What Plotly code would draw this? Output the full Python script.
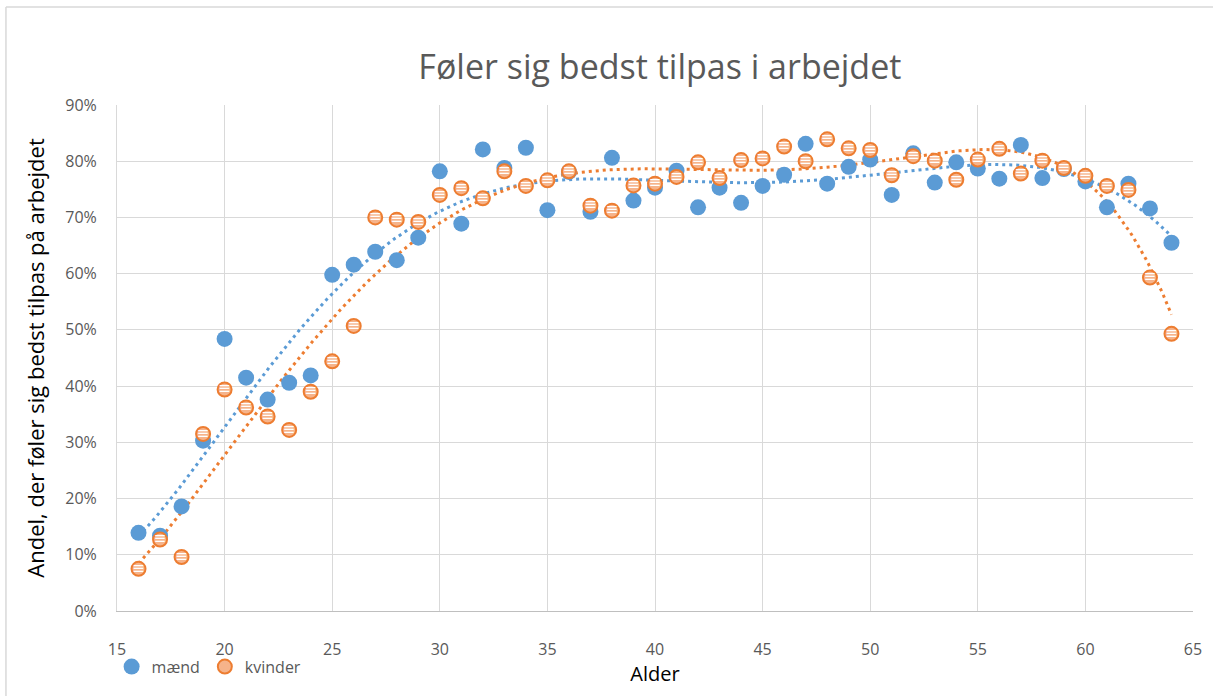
import numpy as np
import plotly.graph_objects as go

# Alder (år)
ages = list(range(16, 65))

# Andel mænd, der føler sig bedst tilpas i arbejdet (%)
maend = [13.9, 13.4, 18.6, 30.3, 48.4, 41.5, 37.6, 40.6, 41.9, 59.8,
         61.6, 63.9, 62.4, 66.4, 78.2, 68.9, 82.1, 78.8, 82.4, 71.3,
         78.1, 71.0, 80.6, 73.0, 75.3, 78.3, 71.8, 75.3, 72.6, 75.6,
         77.6, 83.1, 76.0, 79.0, 80.3, 74.0, 81.4, 76.2, 79.8, 78.7,
         76.9, 82.9, 77.0, 78.6, 76.4, 71.8, 76.0, 71.6, 65.5]

# Andel kvinder (%)
kvinder = [7.5, 12.7, 9.6, 31.5, 39.4, 36.2, 34.6, 32.2, 39.0, 44.4,
           50.7, 70.0, 69.6, 69.2, 74.0, 75.2, 73.4, 78.2, 75.6, 76.6,
           78.2, 72.1, 71.2, 75.7, 76.0, 77.2, 79.8, 77.0, 80.2, 80.5,
           82.6, 80.0, 83.9, 82.3, 82.0, 77.5, 80.9, 80.1, 76.7, 80.3,
           82.2, 77.8, 80.1, 78.8, 77.4, 75.6, 74.9, 59.3, 49.3]

x_ticks = [15, 20, 25, 30, 35, 40, 45, 50, 55, 60, 65]
y_ticks = [0, 10, 20, 30, 40, 50, 60, 70, 80, 90]
y_labels = [f"{v}%" for v in y_ticks]

BLUE = "#5B9BD5"
ORANGE = "#ED7D31"
GREY_TXT = "#595959"

x = np.array(ages, dtype=float)


def poly_trend(yvals, order=6):
    # Polynomial trendline of order 6 (least squares), evaluated on a fine grid
    xc = (x - x.mean()) / x.std()
    coef = np.polyfit(xc, np.array(yvals) / 100.0, order)
    xf = np.linspace(x.min(), x.max(), 400)
    return xf, np.polyval(coef, (xf - x.mean()) / x.std())


fig = go.Figure()

xb, yb = poly_trend(maend)
xo, yo = poly_trend(kvinder)

fig.add_trace(go.Scatter(x=xb, y=yb, mode="lines", showlegend=False, hoverinfo="skip",
                         line=dict(color=BLUE, width=3, dash="3px,4px")))
fig.add_trace(go.Scatter(x=xo, y=yo, mode="lines", showlegend=False, hoverinfo="skip",
                         line=dict(color=ORANGE, width=3, dash="3px,4px")))

fig.add_trace(go.Scatter(
    x=ages, y=[v / 100 for v in maend], mode="markers", name="mænd",
    marker=dict(color=BLUE, size=16, line=dict(width=0)),
))
fig.add_trace(go.Scatter(
    x=ages, y=[v / 100 for v in kvinder], mode="markers", name="kvinder",
    marker=dict(color="#F6B38A", size=14, line=dict(color=ORANGE, width=2)),
))
# white horizontal stripes inside the kvinder markers
fig.add_trace(go.Scatter(
    x=ages, y=[v / 100 for v in kvinder], mode="text", text=["≡"] * len(ages),
    textposition="middle center", showlegend=False, hoverinfo="skip",
    textfont=dict(color="white", size=15, family="DejaVu Sans"),
))

# outer chart frame (left and top edges)
fig.add_shape(type="line", xref="paper", yref="paper",
              x0=-0.1032, x1=-0.1032, y0=-0.3, y1=1.1937,
              line=dict(color="#D9D9D9", width=1.5))
fig.add_shape(type="line", xref="paper", yref="paper",
              x0=-0.1032, x1=1.05, y0=1.1937, y1=1.1937,
              line=dict(color="#D9D9D9", width=1.5))

fig.update_layout(
    width=1213, height=696,
    margin=dict(l=117, r=20, t=105, b=85),
    paper_bgcolor="white", plot_bgcolor="white",
    font=dict(family="Open Sans", color=GREY_TXT),
    title=dict(text="Føler sig bedst tilpas i arbejdet", x=0.544, xanchor="center",
               y=0.904, yanchor="middle",
               font=dict(family="Open Sans", size=34, color=GREY_TXT)),
    xaxis=dict(range=[15, 65], tickvals=x_ticks, showgrid=True, gridcolor="#D9D9D9",
               gridwidth=1, zeroline=False, showline=True, linecolor="#BFBFBF",
               linewidth=1, mirror=False, ticks="outside", ticklen=24,
               tickcolor="rgba(0,0,0,0)",
               tickfont=dict(size=16, color=GREY_TXT),
               title=dict(text="Alder", standoff=6,
                          font=dict(size=20, color="black"))),
    yaxis=dict(range=[0, 0.9], tickvals=[v / 100 for v in y_ticks], ticktext=y_labels,
               showgrid=True, gridcolor="#D9D9D9", gridwidth=1, zeroline=False,
               showline=True, linecolor="#D9D9D9", linewidth=1, ticks="outside",
               ticklen=16, tickcolor="rgba(0,0,0,0)",
               tickfont=dict(size=16, color=GREY_TXT),
               title=dict(text="Andel, der føler sig bedst tilpas på arbejdet",
                          standoff=14, font=dict(size=22, color="black"))),
    legend=dict(orientation="h", x=-0.005, xanchor="left", y=-0.11, yanchor="middle",
                font=dict(size=16, color=GREY_TXT), bgcolor="rgba(0,0,0,0)",
                itemwidth=30, tracegroupgap=0),
    showlegend=True,
)

fig.write_html("out.html")
